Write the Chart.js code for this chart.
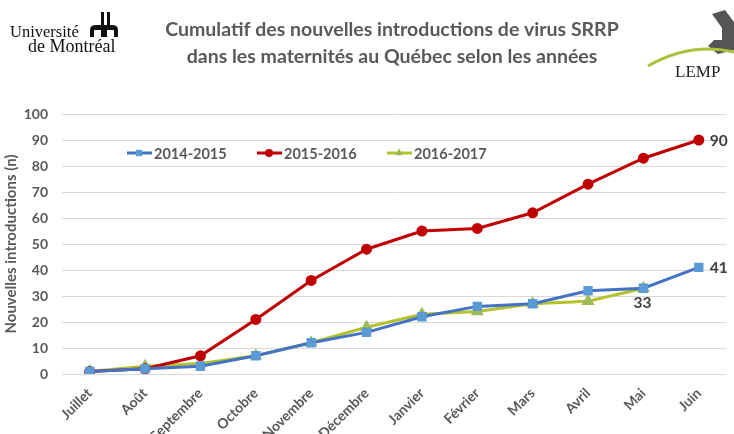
<!DOCTYPE html>
<html>
<head>
<meta charset="utf-8">
<script src="https://cdn.jsdelivr.net/npm/chart.js@4/dist/chart.umd.min.js"></script>
<style>
  html, body { margin: 0; padding: 0; background: #fff; }
  #wrap { position: relative; width: 734px; height: 434px; }
</style>
</head>
<body>
<div id="wrap"><canvas id="myChart"></canvas></div>
<script>
// data
var mois = ['Juillet', 'Août', 'Septembre', 'Octobre', 'Novembre', 'Décembre',
            'Janvier', 'Février', 'Mars', 'Avril', 'Mai', 'Juin'];
var saison1415 = [1, 2, 3, 7, 12, 16, 22, 26, 27, 32, 33, 41];
var saison1516 = [1, 2, 7, 21, 36, 48, 55, 56, 62, 73, 83, 90];
var saison1617 = [1, 3, 4, 7, 12, 18, 23, 24, 27, 28, 33];
var yTicks = [0, 10, 20, 30, 40, 50, 60, 70, 80, 90, 100];

var gris = '#595959';
var police = 'Lato, "Open Sans", sans-serif';

// logos + titre
var decor = {
    id: 'decor',
    afterDraw: function (chart) {
        var c = chart.ctx;
        c.save();
        // titre
        c.fillStyle = gris;
        c.font = 'bold 19.5px ' + police;
        c.textAlign = 'center';
        c.textBaseline = 'middle';
        c.fillText('Cumulatif des nouvelles introductions de virus SRRP', 392, 30);
        c.fillText('dans les maternités au Québec selon les années', 392, 57);

        // Université de Montréal
        c.fillStyle = '#111';
        c.textAlign = 'left';
        c.font = '16.5px "Liberation Serif", serif';
        c.fillText('Université', 10, 33);
        c.font = '18px "Liberation Serif", serif';
        c.fillText('de Montréal', 28, 47);
        c.fillRect(101, 12, 3, 16);
        c.fillRect(107, 12, 3, 16);
        c.beginPath();
        c.moveTo(90, 37); c.lineTo(90, 30);
        c.quadraticCurveTo(90, 25, 96, 25);
        c.lineTo(112, 25);
        c.quadraticCurveTo(118, 25, 118, 30);
        c.lineTo(118, 37); c.lineTo(114, 37); c.lineTo(114, 30);
        c.lineTo(107, 30); c.lineTo(107, 37); c.lineTo(101, 37);
        c.lineTo(101, 30); c.lineTo(94, 30); c.lineTo(94, 37);
        c.closePath(); c.fill();

        // LEMP
        c.fillStyle = '#555';
        c.beginPath();
        c.moveTo(712, 14); c.lineTo(725, 10); c.lineTo(734, 22); c.lineTo(734, 50);
        c.lineTo(718, 54); c.lineTo(708, 46); c.lineTo(714, 40); c.lineTo(722, 40);
        c.lineTo(722, 28); c.closePath(); c.fill();
        c.strokeStyle = '#A8C23A';
        c.lineWidth = 3;
        c.beginPath();
        c.moveTo(648, 66);
        c.quadraticCurveTo(690, 42, 734, 52);
        c.stroke();
        c.fillStyle = '#222';
        c.font = '17px "Liberation Serif", serif';
        c.fillText('LEMP', 675, 73);
        c.restore();
    }
};

// legende dans la zone du graphique
var legendeInterne = {
    id: 'legendeInterne',
    afterDatasetsDraw: function (chart) {
        var c = chart.ctx;
        var xs = [127, 257, 387];
        var y = 153;
        c.save();
        c.font = 'bold 14.5px ' + police;
        c.textBaseline = 'middle';
        chart.data.datasets.forEach(function (ds, i) {
            var x = xs[i];
            c.strokeStyle = ds.borderColor;
            c.lineWidth = 3;
            c.beginPath();
            c.moveTo(x, y); c.lineTo(x + 25, y);
            c.stroke();
            c.fillStyle = ds.pointBackgroundColor;
            Chart.helpers.drawPoint(c, {
                pointStyle: ds.pointStyle, radius: ds.pointRadius, rotation: 0,
                borderWidth: 0
            }, x + 12, y);
            c.fillStyle = gris;
            c.fillText(ds.label, x + 27, y + 1);
        });
        c.restore();
    }
};

// etiquettes de fin de série
var etiquettes = {
    id: 'etiquettes',
    afterDatasetsDraw: function (chart) {
        var c = chart.ctx;
        c.save();
        c.font = 'bold 15.5px ' + police;
        c.fillStyle = '#404040';
        c.textBaseline = 'middle';
        var m0 = chart.getDatasetMeta(0).data;
        var m1 = chart.getDatasetMeta(1).data;
        var m2 = chart.getDatasetMeta(2).data;
        var p;
        c.textAlign = 'left';
        p = m1[m1.length - 1];
        c.fillText(saison1516[saison1516.length - 1], p.x + 11, p.y + 1);
        p = m0[m0.length - 1];
        c.fillText(saison1415[saison1415.length - 1], p.x + 11, p.y + 1);
        c.textAlign = 'center';
        p = m2[m2.length - 1];
        c.fillText(saison1617[saison1617.length - 1], p.x - 1, p.y + 15);
        c.restore();
    }
};

var ctx = document.getElementById('myChart').getContext('2d');
var myChart = new Chart(ctx, {
    type: 'line',
    data: {
        labels: mois,
        datasets: [{
            label: '2014-2015',
            data: saison1415,
            borderColor: '#4472C4',
            backgroundColor: '#5B9BD5',
            pointBackgroundColor: '#5B9BD5',
            pointBorderColor: '#5B9BD5',
            pointStyle: 'rect',
            pointRadius: 4.5,
            borderWidth: 3
        },
        {
            label: '2015-2016',
            data: saison1516,
            borderColor: '#C00000',
            backgroundColor: '#C00000',
            pointBackgroundColor: '#C00000',
            pointBorderColor: '#C00000',
            pointStyle: 'circle',
            pointRadius: 4,
            borderWidth: 3
        },
        {
            label: '2016-2017',
            data: saison1617,
            borderColor: '#B4C22C',
            backgroundColor: '#9BBB59',
            pointBackgroundColor: '#9BBB59',
            pointBorderColor: '#9BBB59',
            pointStyle: 'triangle',
            pointRadius: 4.5,
            borderWidth: 3
        }]
    },
    options: {
        responsive: true,
        maintainAspectRatio: false,
        animation: false,
        layout: {
            padding: { top: 114, left: 0, right: 0, bottom: 0 }
        },
        plugins: {
            legend: { display: false },
            title: { display: false },
            tooltip: { enabled: false }
        },
        scales: {
            x: {
                offset: true,
                grid: { display: false },
                border: { display: false },
                ticks: {
                    color: gris,
                    font: { family: police, weight: 'bold', size: 14 },
                    minRotation: 45,
                    maxRotation: 45,
                    autoSkip: false
                },
                afterFit: function (s) { s.height = 60; }
            },
            y: {
                min: 0,
                max: 100,
                afterBuildTicks: function (s) {
                    s.ticks = yTicks.map(function (v) { return { value: v }; });
                },
                grid: { color: '#D9D9D9', lineWidth: 1, drawTicks: false },
                border: { display: false },
                ticks: {
                    color: gris,
                    padding: 14,
                    font: { family: police, weight: 'bold', size: 14 }
                },
                title: {
                    display: true,
                    text: 'Nouvelles introductions (n)',
                    color: gris,
                    font: { family: police, weight: 'bold', size: 15 },
                    padding: { top: 2, bottom: 0 }
                },
                afterFit: function (s) { s.width = 62; }
            }
        }
    },
    plugins: [decor, legendeInterne, etiquettes]
});
</script>
</body>
</html>
